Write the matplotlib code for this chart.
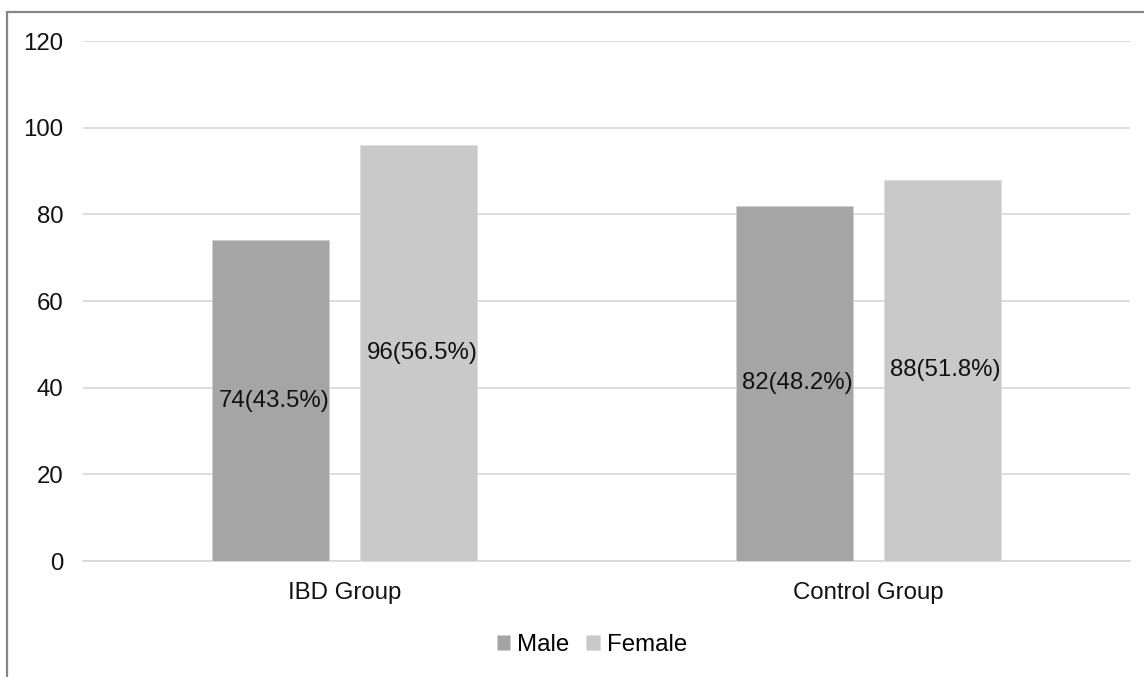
import matplotlib
matplotlib.use("Agg")
import matplotlib.pyplot as plt
from matplotlib.patches import Rectangle
import numpy as np

categories = ["IBD Group", "Control Group"]
series_names = ["Male", "Female"]
male = [74, 82]
female = [96, 88]
male_labels = ["74(43.5%)", "82(48.2%)"]
female_labels = ["96(56.5%)", "88(51.8%)"]
yticks = [0, 20, 40, 60, 80, 100, 120]

plt.rcParams['font.family'] = ['Liberation Sans', 'DejaVu Sans']
FS = 17.3

fig = plt.figure(figsize=(11.44, 6.77), dpi=100)
ax = fig.add_axes([83/1144, 1 - 561/677, (1130 - 83)/1144, (561 - 41)/677])

# outer border
fig.patches.append(Rectangle((7/1144, -0.1), 1.2, 1 - 12/677 + 0.1,
                             transform=fig.transFigure, fill=False,
                             edgecolor='#878787', linewidth=1.6, zorder=0))

x = np.arange(len(categories))
w = 0.2235
gap = 0.059
off = (w + gap) / 2
c_m = '#a5a5a5'
c_f = '#c9c9c9'
bm = ax.bar(x - off, male, w, color=c_m, edgecolor='#d0d0d0', linewidth=0.6,
            label=series_names[0], zorder=3)
bf = ax.bar(x + off, female, w, color=c_f, edgecolor='#dcdcdc', linewidth=0.6,
            label=series_names[1], zorder=3)

for rect, lab in zip(bm, male_labels):
    ax.text(rect.get_x() + rect.get_width()/2 + 0.006, rect.get_height()/2, lab,
            ha='center', va='center', fontsize=FS, color='#111111', zorder=4)
for rect, lab in zip(bf, female_labels):
    ax.text(rect.get_x() + rect.get_width()/2 + 0.006, rect.get_height()/2, lab,
            ha='center', va='center', fontsize=FS, color='#111111', zorder=4)

ax.set_xlim(-0.5, 1.5)
ax.set_ylim(0, 120)
ax.set_yticks(yticks)
ax.set_yticklabels([str(t) for t in yticks])
ax.set_xticks(x)
ax.set_xticklabels(categories)
ax.tick_params(axis='both', length=0, labelsize=FS, colors='#111111')
ax.tick_params(axis='y', pad=14)
ax.tick_params(axis='x', pad=15)
ax.grid(axis='y', color='#d9d9d9', linewidth=1.3, zorder=0)
ax.set_axisbelow(True)
for s in ['top', 'right', 'left']:
    ax.spines[s].set_visible(False)
ax.spines['bottom'].set_color('#d9d9d9')
ax.spines['bottom'].set_linewidth(1.3)

fig.legend(handles=[bm, bf], labels=series_names, loc='center',
           bbox_to_anchor=(592/1144, 1 - 645/677), ncol=2, frameon=False,
           fontsize=FS, handlelength=0.55, handleheight=0.55, handletextpad=0.3,
           columnspacing=0.7)

fig.savefig("out.png", dpi=100)
